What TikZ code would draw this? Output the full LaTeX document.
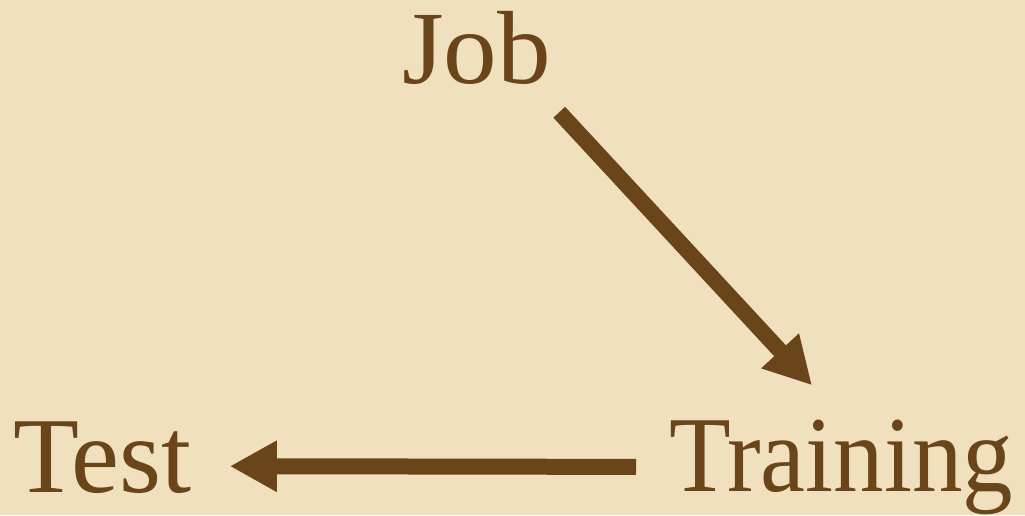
\documentclass[tikz,border=0pt]{standalone}
\usepackage{fontspec}
\setmainfont{Liberation Serif}
\usetikzlibrary{arrows.meta,calc}
\definecolor{paper}{HTML}{F1E0BD}
\definecolor{ink}{HTML}{6A4519}
\tikzset{
  label text/.style={inner sep=0pt, text=ink, font=\fontsize{108}{120}\selectfont, anchor=base west},
  flow/.style={draw=ink, line width=16pt, -{Triangle[length=47pt,width=48pt]}}
}
\begin{document}
\begin{tikzpicture}[x=1pt,y=-1pt]
\fill[paper] (0,0) rectangle (1025,515);
\useasboundingbox (0,0) rectangle (1025,515);
\node[label text, font=\fontsize{104}{120}\selectfont] (Job) at (402,83) {\scalebox{1.03}[1]{Job}};
\node[label text] (Test) at (13,492) {Test};
\node[label text] (Training) at (669,491) {\scalebox{0.935}[1]{Training}};
\draw[flow] ($(Job.south east)+(8,28)$) -- ($(Training.north west)+(143,-34)$);
\draw[flow] ($(Training.west)+(-33,0)$) -- ($(Test.east)+(38,9)$);
\end{tikzpicture}
\end{document}
